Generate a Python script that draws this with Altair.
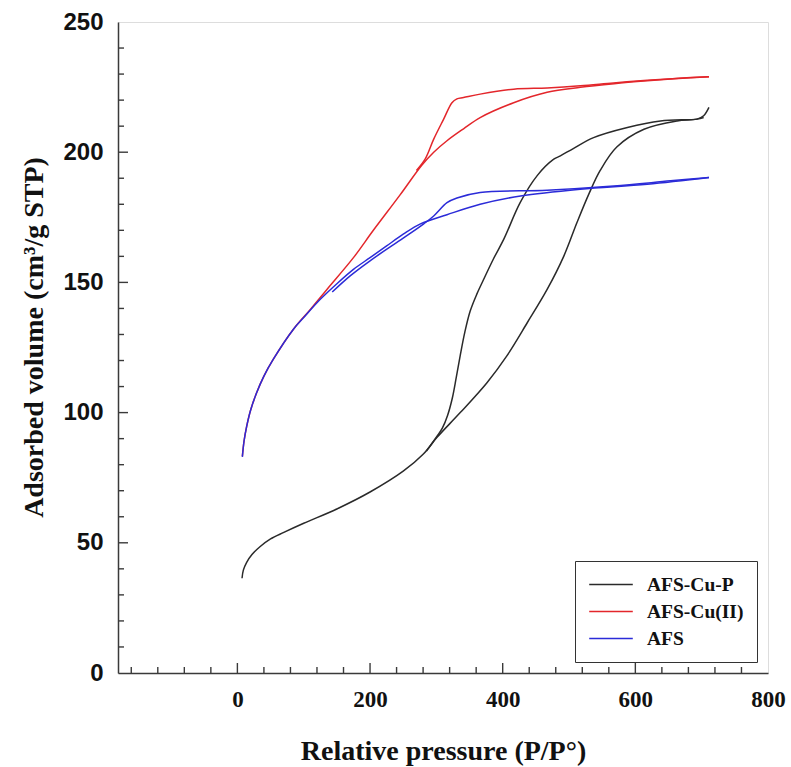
import altair as alt
import pandas as pd

series_names = ["AFS-Cu-P", "AFS-Cu(II)", "AFS"]
series_colors = ["#2a2a2a", "#e3262b", "#2b2bd8"]

# AFS-Cu-P
cup_ads_x = [7, 9, 14, 22, 34, 50, 70, 100, 150, 200, 250, 280, 301, 336, 376, 406, 437, 467, 492, 512, 530, 547, 572, 613, 663, 693, 703, 711]
cup_ads_y = [36.4, 39.5, 42.5, 45.5, 48.5, 51.5, 54, 57.5, 63, 69.5, 77.5, 84, 90.5, 100, 111.4, 121.7, 134.5, 147.3, 160, 173, 184, 193, 202, 208.8, 212, 212.7, 214, 217.2]
cup_des_x = [703, 693, 638, 588, 537, 507, 487, 477, 452, 426.5, 401.5, 386, 371, 361, 351, 343, 336, 330, 324, 317, 309, 301, 285]
cup_des_y = [213.3, 212.7, 212, 209.5, 205.6, 201.5, 198.6, 197.3, 191, 180.7, 166.5, 159, 151, 145.5, 139, 131, 122, 113.5, 105.5, 99, 94, 90.9, 85.2]

# AFS-Cu(II)
cu2_ads_x = [7.5, 10, 14, 20, 29, 40, 54, 84.5, 110, 135, 175, 205, 245, 278, 296, 316, 341, 366, 416.5, 467, 517, 568, 618, 665, 711]
cu2_ads_y = [83.2, 89, 94.7, 101, 107.6, 114, 120.4, 132, 139.6, 147.3, 159.5, 170, 183.5, 195, 200, 204.4, 209, 213.3, 219, 223, 224.9, 226.3, 227.4, 228.3, 229]
cu2_des_x = [711, 665, 618, 567, 517, 467, 416.5, 366, 341, 331, 323.5, 311, 296, 283, 270]
cu2_des_y = [229, 228.4, 227.6, 226.6, 225.5, 224.7, 224.2, 222.3, 221, 220.5, 219, 212.7, 205, 197.3, 193]

# AFS
afs_ads_x = [7.5, 10, 14, 20, 29, 40, 54, 84.5, 100, 125, 150, 175, 200, 225, 250, 276, 316, 366, 427, 517, 618, 711]
afs_ads_y = [83, 89, 94.7, 101, 107.6, 114, 120.4, 132, 136.5, 143.5, 149.5, 155, 159.5, 164, 168.5, 172.5, 176, 180, 183.2, 185.8, 187.7, 190.3]
afs_des_x = [711, 653, 567.5, 467, 366, 331, 316, 296, 281, 250, 200, 170, 143]
afs_des_y = [190.3, 189, 187, 185.4, 184.5, 182.4, 180.6, 175.5, 172.5, 167, 158.3, 152.5, 146.3]

x_major_ticks = [0, 200, 400, 600]
x_minor_ticks = [-160, -120, -80, -40, 40, 80, 120, 160, 240, 280, 320, 360, 440, 480, 520, 560, 640, 680, 720, 760]
y_major_ticks = [50, 100, 150, 200]
y_minor_ticks = [v for v in range(10, 250, 10) if v % 50 != 0]
x_tick_labels = [0, 200, 400, 600, 800]
y_tick_labels = [0, 50, 100, 150, 200, 250]

rows = []
for name, branches in [
    ("AFS-Cu-P", [("ads", cup_ads_x, cup_ads_y), ("des", cup_des_x, cup_des_y)]),
    ("AFS-Cu(II)", [("ads", cu2_ads_x, cu2_ads_y), ("des", cu2_des_x, cu2_des_y)]),
    ("AFS", [("ads", afs_ads_x, afs_ads_y), ("des", afs_des_x, afs_des_y)]),
]:
    for br, xs, ys in branches:
        for i, (xv, yv) in enumerate(zip(xs, ys)):
            rows.append({"series": name, "branch": name + br, "idx": i, "x": xv, "y": yv})
df = pd.DataFrame(rows)

W, H = 650, 651
AX = "#3a3a3a"
SERIF = "Liberation Serif"
SANS = "Liberation Sans"

xscale = alt.Scale(domain=[-180, 800], nice=False, zero=False)
yscale = alt.Scale(domain=[0, 250], nice=False, zero=False)
xaxis = alt.Axis(values=x_tick_labels, title="Relative pressure (P/P°)", ticks=False, tickSize=0,
                 grid=False, labelFlush=False, labelFont=SERIF, labelFontWeight="bold", labelFontSize=23,
                 labelPadding=15, labelColor="#111", titleFont=SERIF, titleFontWeight="bold",
                 titleFontSize=28, titlePadding=26, titleColor="#111", domainColor=AX, domainWidth=1.5)
yaxis = alt.Axis(values=y_tick_labels, title="Adsorbed volume (cm³/g STP)", ticks=False, tickSize=0,
                 grid=False, labelFlush=False, labelFont=SANS, labelFontWeight="bold", labelFontSize=24,
                 labelPadding=15, labelColor="#111", titleFont=SERIF, titleFontWeight="bold",
                 titleFontSize=28, titleX=-70, titleY=315, titleColor="#111", domainColor=AX, domainWidth=1.5)

color = alt.Color("series:N",
                  scale=alt.Scale(domain=series_names, range=series_colors),
                  legend=alt.Legend(orient="none", legendX=457, legendY=539, title=None,
                                    symbolType="stroke", symbolSize=1900, symbolStrokeWidth=1.5,
                                    labelFont=SERIF, labelFontWeight="bold", labelFontSize=19.5,
                                    labelColor="#111", labelOffset=13, padding=13, rowPadding=6,
                                    clipHeight=21, strokeColor="#333", fillColor="white"))

lines = alt.Chart(df).mark_line(strokeWidth=1.5, interpolate="catmull-rom").encode(
    x=alt.X("x:Q", scale=xscale, axis=xaxis),
    y=alt.Y("y:Q", scale=yscale, axis=yaxis),
    color=color,
    detail="branch:N",
    order="idx:Q",
)

def xticks(vals, length):
    d = pd.DataFrame({"x": vals})
    return alt.Chart(d).mark_rule(color=AX, strokeWidth=1.4).encode(
        x=alt.X("x:Q", scale=xscale, axis=xaxis),
        y=alt.value(H), y2=alt.value(H - length))

def yticks(vals, length):
    d = pd.DataFrame({"y": vals})
    return alt.Chart(d).mark_rule(color=AX, strokeWidth=1.4).encode(
        y=alt.Y("y:Q", scale=yscale, axis=yaxis),
        x=alt.value(0), x2=alt.value(length))

chart = alt.layer(
    xticks(x_minor_ticks, 6), xticks(x_major_ticks, 10),
    yticks(y_minor_ticks, 6), yticks(y_major_ticks, 10),
    lines,
).properties(
    width=W, height=H,
    padding={"left": 118, "top": 22, "right": 23, "bottom": 94},
    autosize=alt.AutoSizeParams(type="none"),
).configure_view(stroke=AX, strokeWidth=1.5).configure(background="white")

chart.save("out.html", embed_options={"renderer": "svg", "actions": False})
